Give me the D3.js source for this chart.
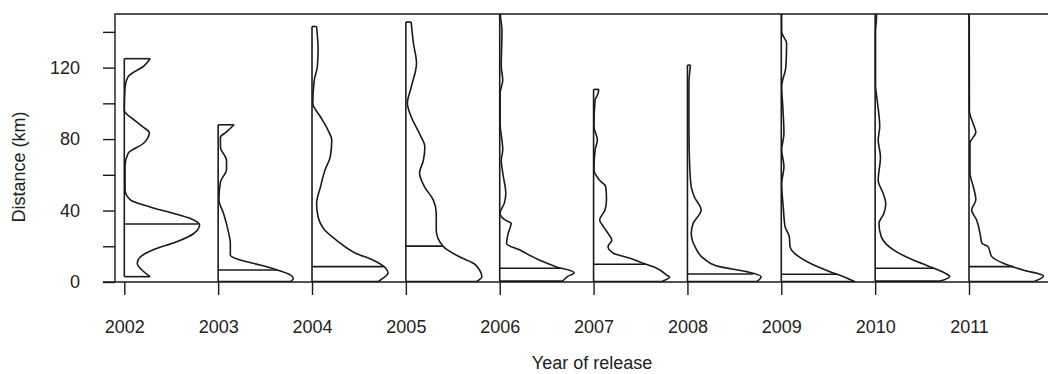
<!DOCTYPE html>
<html>
<head>
<meta charset="utf-8">
<script src="https://cdn.jsdelivr.net/npm/d3@7"></script>
<style>
body { margin: 0; background: #fff; }
svg text { font-family: "Liberation Sans", Arial, sans-serif; fill: #222; }
</style>
</head>
<body>
<svg width="1048" height="374"></svg>
<script>
// years on the x axis, one half-violin each
const years = [2002, 2003, 2004, 2005, 2006, 2007, 2008, 2009, 2010, 2011]
const yMin = [3, 0.2, 0.2, 0.3, 0.5, 0.2, 0.2, 0.2, 0.5, 0.2]
const yMax = [125, 88, 143, 145.5, 155, 107.8, 121.4, 155, 155, 155]
const medians = [32.5, 6.7, 8.6, 20.1, 7.7, 9.9, 4.5, 4.3, 7.7, 8.6]
const yTicks = [0, 20, 40, 60, 80, 100, 120, 140]

// density profiles: [distance km, relative density (peak = 100)], top to bottom
const dens2002 = [[125, 34], [121, 26], [115, 5], [109, 1], [96, 0], [91, 12], [87, 24], [83.5, 33], [80, 30], [77.5, 25], [72, 5], [65, 1], [51.5, 1], [46, 8], [42, 34], [38.5, 64], [35.5, 87], [32, 99], [27, 91], [22.5, 69], [18, 38], [14, 21], [10.5, 17], [6, 25], [3, 34]]
const dens2003 = [[88, 21], [84, 11], [81, 3], [75.5, 3], [68, 11], [63, 11], [56, 3], [46, 1], [38.5, 7], [29, 13], [21.5, 16], [15, 16], [12.3, 29], [9.5, 55], [7, 76], [4, 95], [2, 99], [0.2, 95]]
const dens2004 = [[143, 6], [130, 8], [120.5, 7], [113, 3], [100, 1], [92.5, 11], [85, 21], [79.5, 26], [70, 24], [62.5, 17], [53, 11], [44, 6], [36.5, 8], [29, 17], [23.5, 32], [16, 58], [12.3, 80], [7.7, 97], [5, 100], [2, 93], [0.2, 87]]
const dens2005 = [[145.5, 7], [133.5, 10], [122.5, 14], [109, 7], [100, 2], [92.5, 7], [83, 18], [75.5, 25], [68, 23], [61, 18], [53, 25], [46, 36], [38.5, 40], [29, 40], [20, 49], [14, 71], [10.5, 89], [6.7, 97], [3, 100], [0.3, 93]]
const dens2006 = [[155, 1], [149, 1], [141, 3], [120.5, 2], [113, 4], [105.5, 0.5], [89, 0.5], [74, 4], [68, 2], [61, 4], [49.5, 8], [44, 6], [38.5, 0.5], [34.5, 8], [33, 15], [27, 11], [21.5, 9], [18, 26], [12.3, 52], [8.6, 74], [5.2, 98], [3, 89], [0.5, 83]]
const dens2007 = [[107.8, 7], [104.5, 5], [102, 2], [87, 0.5], [79.5, 5], [74, 2], [62.5, 0.5], [57, 8], [53.3, 16], [46, 17], [40.3, 15], [34.7, 8], [31, 13], [27.2, 19], [23.5, 24], [19.8, 19], [16.1, 26], [13.3, 48], [10.5, 65], [7.7, 83], [3.9, 96], [2.6, 100], [0.2, 89]]
const dens2008 = [[121.4, 4], [111, 2], [83, 2], [64.5, 3], [53.3, 5], [47.7, 9], [40.3, 18], [32.8, 7.5], [27.2, 5], [19.8, 10], [13.3, 21], [8.6, 42], [5.8, 78], [3, 97], [0.2, 91]]
const dens2009 = [[155, 0.3], [140, 0.5], [133.6, 7], [120.5, 6], [109.3, 0.5], [98, 2], [83, 3.5], [74, 0.5], [64.5, 3.5], [55, 0.5], [42, 2.6], [31, 5], [25.4, 10.5], [19.8, 11.5], [10.5, 38], [5.8, 64], [3, 82], [0.2, 97]]
const dens2010 = [[155, 1.7], [148, 1.7], [140, 0.5], [110, 0.5], [102, 2.6], [87, 6], [79.5, 4], [70, 7], [57, 4], [49.6, 10.5], [44, 14], [38.4, 11.5], [32.8, 5], [25.4, 8], [18, 24], [12.3, 50], [8.6, 72], [5, 92], [3, 98], [0.5, 85]]
const dens2011 = [[155, 0.3], [96, 0.5], [88, 6], [84, 9], [77.6, 1.3], [61, 1.3], [53.3, 5.7], [46, 9], [40.3, 3.5], [34.7, 10], [27.2, 14.5], [21.7, 17], [19.8, 25], [14.2, 30], [10.5, 45], [6.7, 71], [3.4, 98], [0.2, 85]]
const profiles = [dens2002, dens2003, dens2004, dens2005, dens2006, dens2007, dens2008, dens2009, dens2010, dens2011]

const svg = d3.select("svg")
const plot = { left: 115, top: 14, right: 1048, bottom: 282 }
const ink = "#1a1a1a"

const y = d3.scaleLinear().domain([0, 150]).range([plot.bottom, plot.top])
const x = d3.scalePoint().domain(years).range([124.3, 969])
const w = d3.scaleLinear().domain([0, 100]).range([0, 76])

// axes
const yAxis = d3.axisLeft(y)
	.tickValues(yTicks)
	.tickFormat((d) => (d % 40 === 0 ? d : ""))
	.tickSize(12)
	.tickPadding(23)
const xAxis = d3.axisBottom(x).tickSize(13).tickPadding(25.5)

const yAxisGroup = svg.append("g").attr("transform", `translate(${plot.left}, 0)`).call(yAxis)
const xAxisGroup = svg.append("g").attr("transform", `translate(0, ${plot.bottom})`).call(xAxis)

;[yAxisGroup, xAxisGroup].forEach((g) => {
	g.select(".domain").remove()
	g.selectAll("line").attr("stroke", ink).attr("stroke-width", 1.4)
	g.selectAll("text").style("font-size", "18px").attr("fill", "#222")
})

// box
svg.append("path")
	.attr("d", `M103,${plot.bottom}H${plot.right}M${plot.left},${plot.bottom}V${plot.top}H${plot.right}`)
	.attr("fill", "none")
	.attr("stroke", ink)
	.attr("stroke-width", 1.4)

svg.append("clipPath").attr("id", "clip")
	.append("rect")
	.attr("x", plot.left)
	.attr("y", plot.top)
	.attr("width", plot.right - plot.left)
	.attr("height", plot.bottom - plot.top)

const graph = svg.append("g").attr("clip-path", "url(#clip)")

const interp = (prof, v) => {
	const asc = prof.slice().reverse()
	for (let i = 1; i < asc.length; i++) {
		if (v <= asc[i][0]) {
			const t = (v - asc[i - 1][0]) / (asc[i][0] - asc[i - 1][0])
			return asc[i - 1][1] + t * (asc[i][1] - asc[i - 1][1])
		}
	}
	return asc[asc.length - 1][1]
}

years.forEach((yr, i) => {
	const x0 = x(yr)
	const prof = profiles[i]
	const g = graph.append("g").attr("fill", "none").attr("stroke", ink).attr("stroke-width", 1.6)

	g.append("line")
		.attr("x1", x0).attr("x2", x0)
		.attr("y1", y(yMin[i])).attr("y2", y(yMax[i]))

	// top and bottom caps
	g.append("line")
		.attr("x1", x0).attr("x2", x0 + w(prof[0][1]))
		.attr("y1", y(yMax[i])).attr("y2", y(yMax[i]))
	g.append("line")
		.attr("x1", x0).attr("x2", x0 + w(prof[prof.length - 1][1]))
		.attr("y1", y(yMin[i])).attr("y2", y(yMin[i]))

	const line = d3.line()
		.x((d) => x0 + w(d[1]))
		.y((d) => y(d[0]))
		.curve(d3.curveMonotoneY)
	g.append("path").attr("d", line(prof.slice().reverse()))

	// median
	g.append("line")
		.attr("x1", x0).attr("x2", x0 + w(interp(prof, medians[i])))
		.attr("y1", y(medians[i])).attr("y2", y(medians[i]))
})

// axis titles
svg.append("text")
	.attr("transform", "translate(25, 167) rotate(-90)")
	.attr("text-anchor", "middle")
	.style("font-size", "18px")
	.text("Distance (km)")

svg.append("text")
	.attr("x", 592)
	.attr("y", 369)
	.attr("text-anchor", "middle")
	.style("font-size", "18px")
	.text("Year of release")
</script>
</body>
</html>
